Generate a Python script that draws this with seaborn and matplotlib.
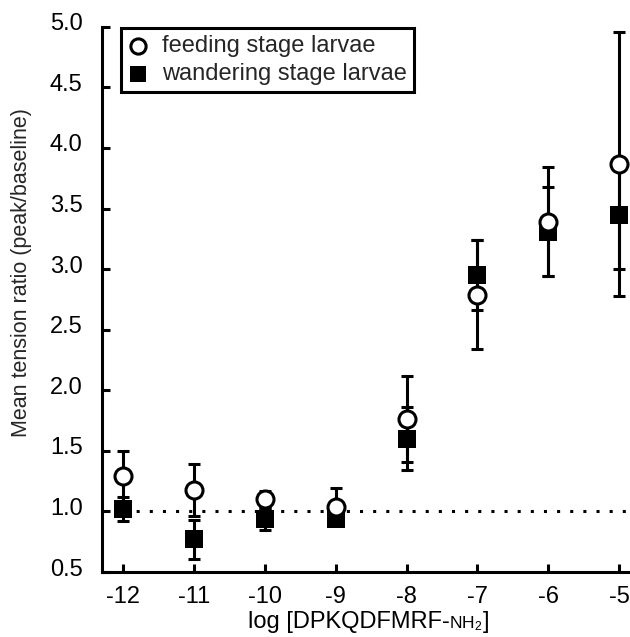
import numpy as np
import pandas as pd
import matplotlib
matplotlib.use("Agg")
import matplotlib.pyplot as plt
import matplotlib.transforms as mtransforms
from matplotlib.offsetbox import TextArea, HPacker, AnchoredOffsetbox
import seaborn as sns

# values
log_conc = [-12, -11, -10, -9, -8, -7, -6, -5]
feeding_mean = [1.29, 1.18, 1.10, 1.04, 1.76, 2.79, 3.39, 3.87]
feeding_err = [0.21, 0.215, 0.07, 0.15, 0.355, 0.45, 0.45, 1.09]
wandering_mean = [1.02, 0.77, 0.94, 0.94, 1.60, 2.95, 3.31, 3.45]
wandering_err = [0.10, 0.16, 0.09, 0.04, 0.26, 0.29, 0.37, 0.45]
group_labels = ["feeding stage larvae", "wandering stage larvae"]
y_ticks = [0.5, 1.0, 1.5, 2.0, 2.5, 3.0, 3.5, 4.0, 4.5, 5.0]

df = pd.DataFrame({
    "x": log_conc * 2,
    "y": feeding_mean + wandering_mean,
    "group": [group_labels[0]] * 8 + [group_labels[1]] * 8,
})

sns.set_style("ticks")
plt.rcParams["font.family"] = ["Liberation Sans", "DejaVu Sans"]
plt.rcParams["mathtext.fontset"] = "custom"
plt.rcParams["mathtext.rm"] = "Liberation Sans"
plt.rcParams["mathtext.it"] = "Liberation Sans"

fs = 17
fig = plt.figure(figsize=(6.3, 6.37), dpi=100)
ax = fig.add_axes([0.162, 0.102, 0.838, 0.856])

# dotted baseline at ratio 1
ax.hlines(1.0, -12, -4.9, colors="black", linewidth=2.2, linestyles=(0, (1, 3.3)), zorder=1)

# error bars
ax.errorbar(log_conc, wandering_mean, yerr=wandering_err, fmt="none", ecolor="black",
            elinewidth=2.2, capsize=4, capthick=2.2, zorder=2)
ax.errorbar(log_conc, feeding_mean, yerr=feeding_err, fmt="none", ecolor="black",
            elinewidth=2.2, capsize=4, capthick=2.2, zorder=2)

# markers (square under circle)
sns.scatterplot(data=df[df.group == group_labels[1]], x="x", y="y", marker="s", s=155,
                color="black", edgecolor="black", linewidth=0, ax=ax, zorder=3,
                label=group_labels[1])
sns.scatterplot(data=df[df.group == group_labels[0]], x="x", y="y", marker="o", s=150,
                color="white", edgecolor="black", linewidth=2.2, ax=ax, zorder=4,
                label=group_labels[0])

ax.set_xlim(-12.3, -4.845)
ax.set_ylim(0.5, 5.0)
ax.set_xticks(log_conc)
ax.set_xticklabels([str(v) for v in log_conc])
ax.set_yticks(y_ticks)
ax.set_yticklabels(["%.1f" % v for v in y_ticks])
ax.tick_params(direction="in", length=6, width=2.2, labelsize=fs, colors="black")
ax.tick_params(axis="x", pad=10)
ax.tick_params(axis="y", pad=14)

# y tick labels sit slightly above their ticks in the original
shift = mtransforms.ScaledTranslation(0, 5 / 100, fig.dpi_scale_trans)
for lab in ax.get_yticklabels():
    lab.set_transform(lab.get_transform() + shift)

for side in ["top", "right"]:
    ax.spines[side].set_visible(False)
for side in ["left", "bottom"]:
    ax.spines[side].set_linewidth(2.2)
    ax.spines[side].set_color("black")

ax.set_xlabel("")
ax.set_ylabel("Mean tension ratio (peak/baseline)", fontsize=15.5)
ax.yaxis.set_label_coords(-0.133, 0.55)

# x label with the small-cap style NH2
parts = [TextArea("log [DPKQDFMRF-", textprops=dict(fontsize=fs, color="black")),
         TextArea(r"NH$_2$", textprops=dict(fontsize=12.5, color="black")),
         TextArea("]", textprops=dict(fontsize=fs, color="black"))]
xl = HPacker(children=parts, align="baseline", pad=0, sep=0)
xbox = AnchoredOffsetbox(loc="lower center", child=xl, pad=0, frameon=False,
                         bbox_to_anchor=(0.585, 0.006), bbox_transform=fig.transFigure,
                         borderpad=0)
fig.add_artist(xbox)

handles, labels = ax.get_legend_handles_labels()
order = [labels.index(group_labels[0]), labels.index(group_labels[1])]
leg = ax.legend([handles[i] for i in order], [labels[i] for i in order],
                loc="upper left", bbox_to_anchor=(0.036, 0.998), borderaxespad=0,
                fontsize=fs, frameon=True, fancybox=False, framealpha=1,
                edgecolor="black", handletextpad=0.65, labelspacing=0.25,
                borderpad=0.3, handlelength=0.8)
leg.get_frame().set_linewidth(2.2)
for h in leg.legend_handles:
    h.set_sizes([120])

fig.savefig("out.png", dpi=100)
